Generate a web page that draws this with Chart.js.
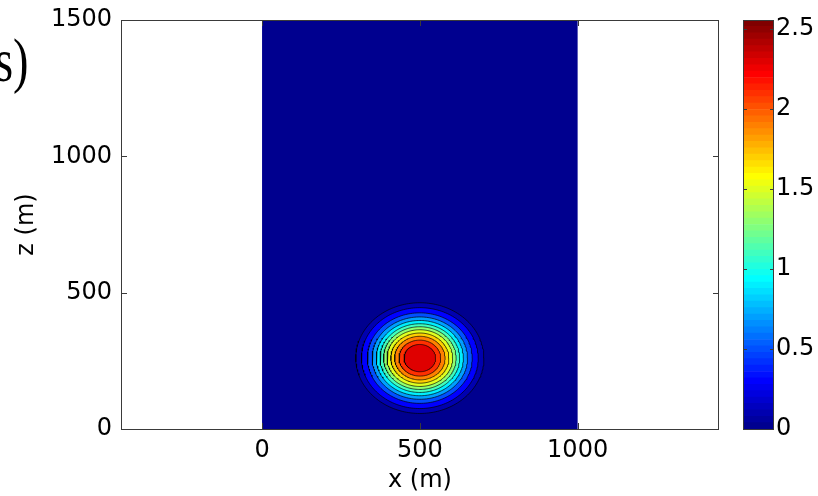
<!DOCTYPE html>
<html>
<head>
<meta charset="utf-8">
<script src="https://cdn.jsdelivr.net/npm/chart.js@4/dist/chart.umd.min.js"></script>
<style>
html,body{margin:0;padding:0;background:#fff;}
#wrap{position:relative;width:818px;height:496px;overflow:hidden;background:#fff;}
#wrap canvas{position:absolute;left:0;top:0;}
#lab{position:absolute;left:-5px;top:29px;font-family:'Liberation Serif','Times New Roman',serif;font-size:62px;line-height:62px;white-space:nowrap;color:#000;transform:scaleX(0.75);transform-origin:0 0;}
</style>
</head>
<body>
<div id="wrap">
<canvas id="main" width="818" height="496"></canvas>
<canvas id="cbar" width="818" height="496"></canvas>
<div id="lab">s)</div>
</div>
<script>
// ---- data ----
const xTicks = [0, 500, 1000];
const zTicks = [0, 500, 1000, 1500];
const domainX = [0, 1000];
const domainZ = [0, 1500];
const bubbleCenter = [500, 260];
const contourLevels = [0.1, 0.3, 0.5, 0.7, 0.9, 1.1, 1.3, 1.5, 1.7, 1.9, 2.1, 2.3];
const contourRadii  = [203, 185, 166, 151, 138, 126, 115, 104, 92, 80, 66, 50];
const colorMin = 0;
const colorMax = 2.556;
const colorTicks = [0, 0.5, 1, 1.5, 2, 2.5];

// ---- MATLAB jet(64) colormap ----
function jet(m) {
  const n = Math.ceil(m / 4);
  const u = [];
  for (let i = 1; i <= n; i++) u.push(i / n);
  for (let i = 1; i < n; i++) u.push(1);
  for (let i = n; i >= 1; i--) u.push(i / n);
  const g0 = Math.ceil(n / 2) - (m % 4 === 1 ? 1 : 0);
  const out = [];
  for (let k = 1; k <= m; k++) {
    const gi = k - g0, ri = k - g0 - n, bi = k - g0 + n;
    const val = j => (j >= 1 && j <= u.length) ? u[j - 1] : 0;
    const r = val(ri), g = val(gi), b = val(bi);
    out.push(`rgb(${Math.round(r*255)},${Math.round(g*255)},${Math.round(b*255)})`);
  }
  return out;
}
const cmap = jet(64);
function levelColor(L) {
  const idx = Math.max(0, Math.min(63, Math.floor((L - colorMin) / (colorMax - colorMin) * 64)));
  return cmap[idx];
}

Chart.defaults.font.family = "'DejaVu Sans', sans-serif";
Chart.defaults.font.size = 24;
Chart.defaults.color = '#000';

function circlePoints(c, r, n) {
  const pts = [];
  for (let i = 0; i <= n; i++) {
    const a = 2 * Math.PI * i / n;
    pts.push({ x: c[0] + r * Math.cos(a), y: c[1] + r * Math.sin(a) });
  }
  return pts;
}

const frame = {
  id: 'frame',
  afterDraw(chart, args, opts) {
    const { ctx, chartArea: a, scales } = chart;
    const L = opts.len;
    ctx.save();
    ctx.strokeStyle = opts.color;
    ctx.lineWidth = 1;
    ctx.beginPath();
    const xs = scales[opts.xId], ys = scales[opts.yId];
    if (xs && xs.options.display !== false) {
      xs.ticks.forEach(t => {
        const p = Math.round(xs.getPixelForValue(t.value)) + 0.5;
        ctx.moveTo(p, a.bottom); ctx.lineTo(p, a.bottom - L);
        ctx.moveTo(p, a.top); ctx.lineTo(p, a.top + L);
      });
    }
    ys.ticks.forEach(t => {
      const p = Math.round(ys.getPixelForValue(t.value)) + 0.5;
      ctx.moveTo(a.left, p); ctx.lineTo(a.left + L, p);
      ctx.moveTo(a.right, p); ctx.lineTo(a.right - L, p);
    });
    ctx.stroke();
    ctx.strokeRect(Math.round(a.left) + 0.5, Math.round(a.top) + 0.5,
                   Math.round(a.right - a.left) - 1, Math.round(a.bottom - a.top));
    ctx.restore();
  }
};

// ---- main contour chart ----
const datasets = [];
datasets.push({
  data: [
    { x: domainX[0], y: domainZ[0] }, { x: domainX[1], y: domainZ[0] },
    { x: domainX[1], y: domainZ[1] }, { x: domainX[0], y: domainZ[1] },
    { x: domainX[0], y: domainZ[0] }
  ],
  fill: 'shape', backgroundColor: cmap[0], borderWidth: 0, pointRadius: 0, order: 100
});
contourLevels.forEach((lev, i) => {
  datasets.push({
    data: circlePoints(bubbleCenter, contourRadii[i], 180),
    fill: 'shape', backgroundColor: levelColor(lev),
    borderColor: 'rgba(0,0,0,0.85)', borderWidth: 0.8,
    pointRadius: 0, order: 50 - i
  });
});

new Chart(document.getElementById('main'), {
  type: 'line',
  data: { datasets },
  plugins: [frame],
  options: {
    responsive: false, animation: false, devicePixelRatio: 1,
    layout: { autoPadding: false, padding: { top: 20, right: 99, left: 0, bottom: 0 } },
    elements: { line: { tension: 0 }, point: { radius: 0, hoverRadius: 0 } },
    plugins: {
      legend: { display: false }, tooltip: { enabled: false },
      frame: { len: 6, color: '#3a3a3a', xId: 'x', yId: 'y' }
    },
    scales: {
      x: {
        type: 'linear', min: -447, max: 1448,
        afterBuildTicks: s => { s.ticks = xTicks.map(v => ({ value: v })); },
        afterFit: s => { s.height = 67; s.paddingLeft = 0; s.paddingRight = 0; },
        grid: { display: false, drawTicks: false }, border: { display: false },
        ticks: { padding: 7, callback: v => String(v) },
        title: { display: true, text: 'x (m)', padding: { top: 0, bottom: 1 } }
      },
      y: {
        type: 'linear', min: 0, max: 1500,
        afterBuildTicks: s => { s.ticks = zTicks.map(v => ({ value: v })); },
        afterFit: s => { s.width = 121; s.paddingTop = 0; s.paddingBottom = 0; },
        grid: { display: false, drawTicks: false }, border: { display: false },
        ticks: { padding: 9, callback: v => String(v) },
        title: { display: true, text: 'z (m)', padding: { top: 12, bottom: 0 } }
      }
    }
  }
});

// ---- colorbar ----
const cbSets = cmap.map((c, i) => ({
  data: [[colorMin + (colorMax - colorMin) * i / 64, colorMin + (colorMax - colorMin) * (i + 1) / 64]],
  backgroundColor: c, borderWidth: 0, barPercentage: 1, categoryPercentage: 1, grouped: false
}));
new Chart(document.getElementById('cbar'), {
  type: 'bar',
  data: { labels: ['cb'], datasets: cbSets },
  plugins: [frame],
  options: {
    responsive: false, animation: false, devicePixelRatio: 1,
    layout: { autoPadding: false, padding: { top: 20, right: 0, left: 743, bottom: 67 } },
    plugins: {
      legend: { display: false }, tooltip: { enabled: false },
      frame: { len: 4, color: '#3a3a3a', xId: 'x', yId: 'y' }
    },
    scales: {
      x: { display: false },
      y: {
        type: 'linear', position: 'right', min: colorMin, max: colorMax,
        afterBuildTicks: s => { s.ticks = colorTicks.map(v => ({ value: v })); },
        afterFit: s => { s.width = 44; s.paddingTop = 0; s.paddingBottom = 0; },
        grid: { display: false, drawTicks: false }, border: { display: false },
        ticks: { padding: 2, callback: v => String(v) }
      }
    }
  }
});
</script>
</body>
</html>
